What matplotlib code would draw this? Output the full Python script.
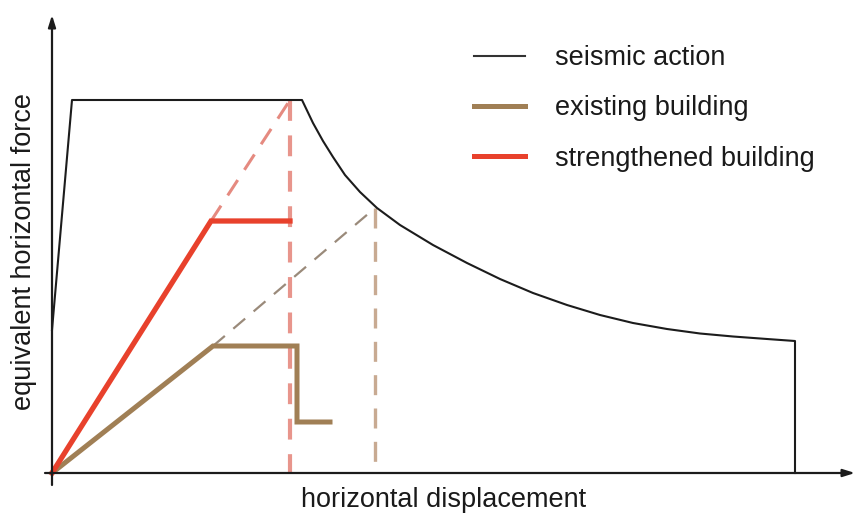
import matplotlib
matplotlib.use("Agg")
import matplotlib.pyplot as plt
from matplotlib.lines import Line2D

plt.rcParams['font.family'] = ['Liberation Sans', 'DejaVu Sans']

# ---- data (arbitrary displacement / force units) ----
seismic_x = [0, 20, 250, 261, 271, 281, 293, 308, 325, 348, 381, 415, 448, 481,
             515, 548, 581, 615, 648, 681, 715, 743, 743]
seismic_y = [143, 373, 373, 350, 332, 316, 298, 281, 265, 248, 228, 210, 194, 180,
             168, 158, 150, 144, 139.5, 136.5, 134, 132, 0]

existing_x = [0, 161, 245, 245, 278]
existing_y = [0, 127, 127, 51, 51]

strength_x = [0, 159, 238]
strength_y = [0, 252, 252]

# elastic extension to demand and demand displacement (strengthened)
strength_ext_x = [159, 238]
strength_ext_y = [252, 373]
strength_dem_x = [238, 238]
strength_dem_y = [373, 0]

# elastic extension to demand and demand displacement (existing)
existing_ext_x = [161, 323]
existing_ext_y = [127, 265]
existing_dem_x = [323, 323]
existing_dem_y = [265, 0]

labels = ["seismic action", "existing building", "strengthened building"]
x_label = "horizontal displacement"
y_label = "equivalent horizontal force"

BLACK = "#1c1c1c"
BROWN = "#a07f55"
RED = "#e8412c"

fig = plt.figure(figsize=(8.57, 5.15), dpi=100)
ax = fig.add_axes([0, 0, 1, 1])
ax.set_xlim(-52, 805)
ax.set_ylim(-42, 473)
ax.axis("off")

# dashed construction lines
ax.plot(strength_ext_x, strength_ext_y, color="#e58a80", lw=2.2, dashes=(6, 4))
ax.plot(strength_dem_x, strength_dem_y, color="#e8958c", lw=3.0, dashes=(5, 3.5))
ax.plot(existing_ext_x, existing_ext_y, color="#9a8a7a", lw=1.6, dashes=(7, 5))
ax.plot(existing_dem_x, existing_dem_y, color="#c8aa92", lw=2.4, dashes=(6, 4))

# main curves
l1, = ax.plot(seismic_x, seismic_y, color=BLACK, lw=1.5, solid_joinstyle="round")
l2, = ax.plot(existing_x, existing_y, color=BROWN, lw=3.6, solid_joinstyle="miter")
l3, = ax.plot(strength_x, strength_y, color=RED, lw=3.8, solid_joinstyle="miter")

# axes with arrows
arrow = dict(arrowstyle="-|>,head_length=0.7,head_width=0.22", color=BLACK, lw=1.6,
             shrinkA=0, shrinkB=0)
ax.annotate("", xy=(0, 458), xytext=(0, -12), arrowprops=arrow)
ax.annotate("", xy=(803, 0), xytext=(-7, 0), arrowprops=arrow)

ax.text(392, -27, x_label, ha="center", va="center", fontsize=19.5, color="#1a1a1a")
ax.text(-28, 221, y_label, ha="center", va="center", rotation=90, fontsize=19.5, color="#1a1a1a")

h1 = Line2D([], [], color="#333333", lw=1.5)
h2 = Line2D([], [], color=BROWN, lw=3.6)
h3 = Line2D([], [], color=RED, lw=3.6)
leg = ax.legend([h1, h2, h3], labels, loc="upper left",
                bbox_to_anchor=(474 / 857, 1 - 45 / 515), frameon=False,
                fontsize=19.5, handlelength=1.9, handletextpad=1.1,
                labelspacing=0.9, borderpad=0, borderaxespad=0)
for t in leg.get_texts():
    t.set_color("#1a1a1a")

fig.savefig("out.png", dpi=100)
